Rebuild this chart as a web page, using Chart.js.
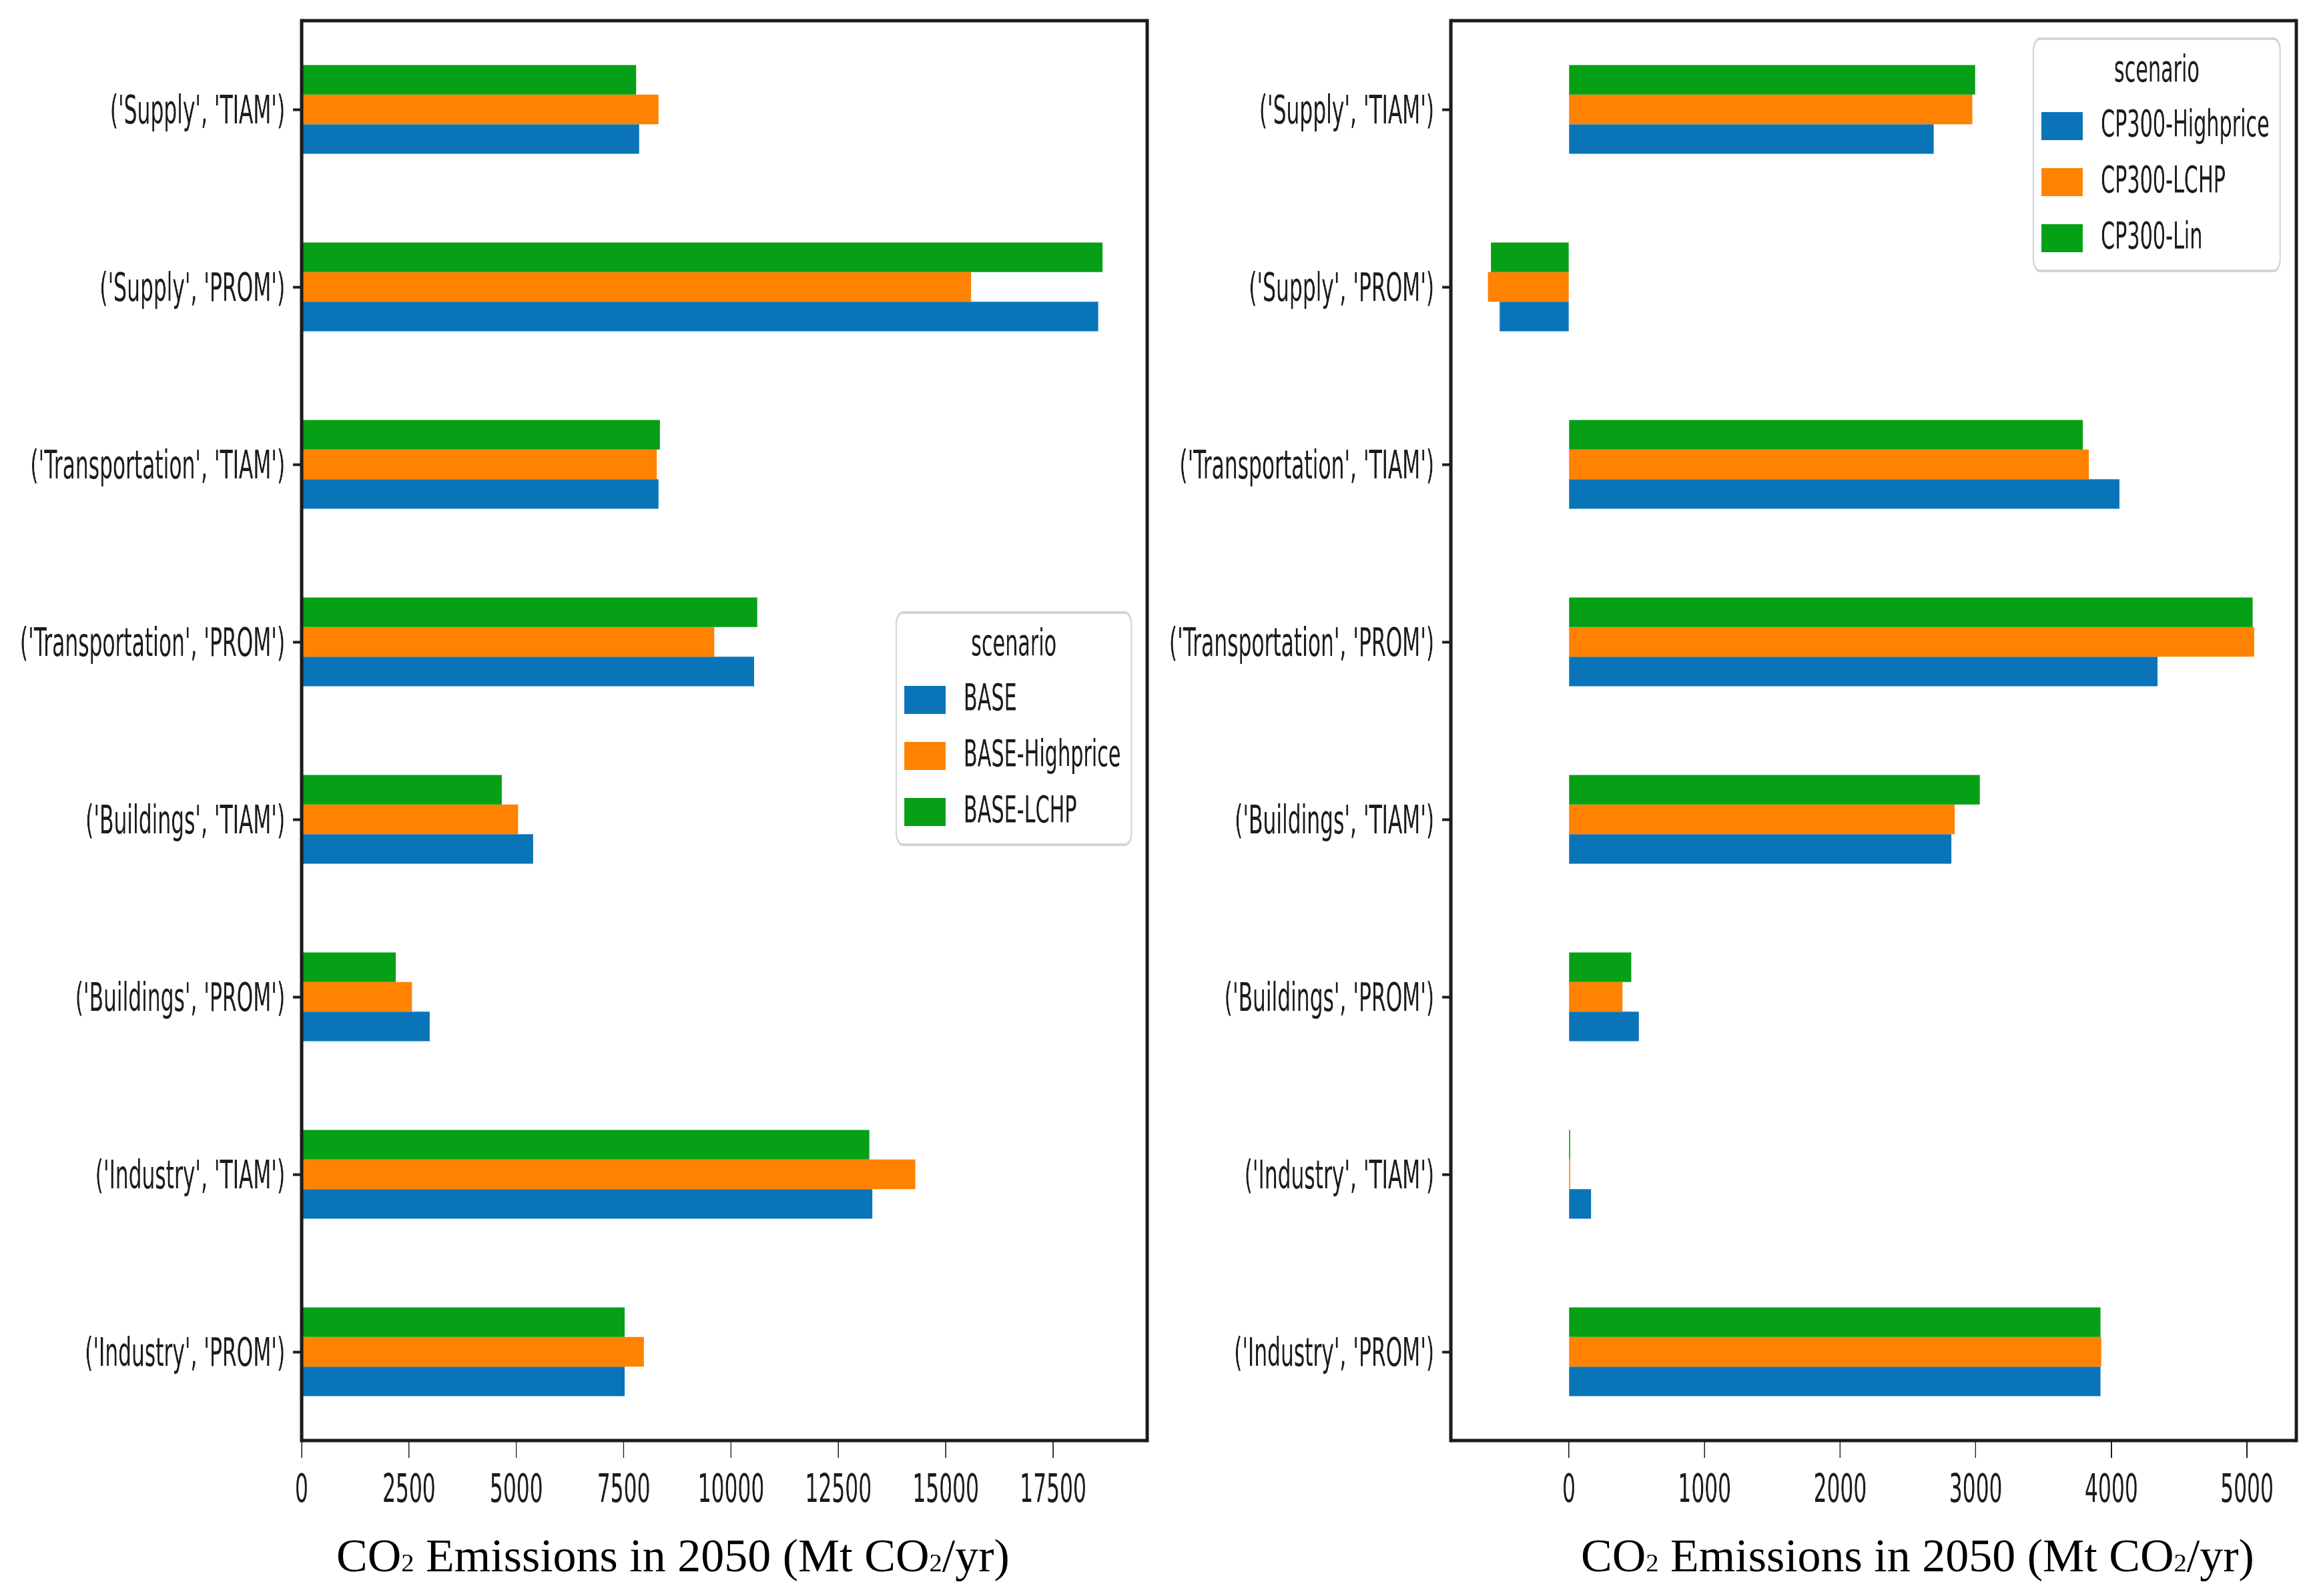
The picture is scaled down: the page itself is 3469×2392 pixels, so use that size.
<!DOCTYPE html>
<html>
<head>
<meta charset="utf-8">
<script src="https://cdn.jsdelivr.net/npm/chart.js@4.4.1/dist/chart.umd.min.js"></script>
<style>
  html, body { margin: 0; padding: 0; background: #fff; }
  body { width: 3469px; height: 2392px; position: relative; overflow: hidden; }
  .panel { position: absolute; top: 0; transform-origin: 0 0; }
  .xtitle {
    position: absolute; top: 2297px; white-space: nowrap; color: #000;
    font-family: 'Liberation Serif', 'Times New Roman', serif; font-size: 70px; line-height: 1;
  }
  .xtitle span { font-size: 0.55em; }
</style>
</head>
<body>
<div class="panel" id="wrap-left"><canvas id="left"></canvas></div>
<div class="panel" id="wrap-right"><canvas id="right"></canvas></div>
<div class="xtitle" style="left:504px">CO<span>2</span> Emissions in 2050 (Mt CO<span>2</span>/yr)</div>
<div class="xtitle" style="left:2369px">CO<span>2</span> Emissions in 2050 (Mt CO<span>2</span>/yr)</div>
<script>
// ── Data ──
const categories = [
  "('Supply', 'TIAM')", "('Supply', 'PROM')",
  "('Transportation', 'TIAM')", "('Transportation', 'PROM')",
  "('Buildings', 'TIAM')", "('Buildings', 'PROM')",
  "('Industry', 'TIAM')", "('Industry', 'PROM')"
];

const leftScenarios = ['BASE', 'BASE-Highprice', 'BASE-LCHP'];
const baseVals      = [7860, 18550, 8310, 10540, 5390, 2980, 13290, 7520];
const baseHighVals  = [8310, 15590, 8270, 9610, 5040, 2570, 14290, 7970];
const baseLchpVals  = [7790, 18650, 8340, 10610, 4660, 2190, 13220, 7520];
const leftTicks     = [0, 2500, 5000, 7500, 10000, 12500, 15000, 17500];

const rightScenarios = ['CP300-Highprice', 'CP300-LCHP', 'CP300-Lin'];
const cpHighVals     = [2690, -510, 4060, 4340, 2820, 515, 163, 3920];
const cpLchpVals     = [2975, -597, 3835, 5053, 2845, 395, 10, 3925];
const cpLinVals      = [2995, -575, 3790, 5042, 3030, 460, 10, 3920];
const rightTicks     = [0, 1000, 2000, 3000, 4000, 5000];

const colors = ['#0a74b8', '#ff8200', '#05a015'];

// ── Look ──
const SQUASH = 0.54;      // the reference is squeezed horizontally
const H = 2392;
const PLOT_TOP = 31;
const PLOT_BOTTOM = 2159;
const FONT = { family: "'DejaVu Sans', sans-serif", size: 58 };
const INK = '#1c1c1c';

const $ = id => document.getElementById(id);

// ── Plugins ──
const frame = {
  id: 'frame',
  afterDatasetsDraw(chart) {
    const { ctx, chartArea: a } = chart;
    ctx.save();
    ctx.strokeStyle = INK;
    ctx.lineWidth = 5;
    ctx.beginPath();
    ctx.moveTo(a.left, a.top); ctx.lineTo(a.right, a.top);
    ctx.moveTo(a.left, a.bottom); ctx.lineTo(a.right, a.bottom);
    ctx.stroke();
    ctx.lineWidth = 5 / SQUASH;
    ctx.beginPath();
    ctx.moveTo(a.left, a.top - 2.5); ctx.lineTo(a.left, a.bottom + 2.5);
    ctx.moveTo(a.right, a.top - 2.5); ctx.lineTo(a.right, a.bottom + 2.5);
    ctx.stroke();
    ctx.restore();
  }
};

const boxLegend = {
  id: 'boxLegend',
  afterDraw(chart, args, o) {
    const ctx = chart.ctx;
    const k = 1 / SQUASH;
    const sets = chart.data.datasets.slice().reverse();
    ctx.save();
    ctx.font = `56px ${FONT.family}`;
    const tw = Math.max(...sets.map(d => ctx.measureText(d.label).width));
    const x = o.x * k, y = o.y, w = 101 * k + tw + 16 * k, h = o.h;

    ctx.beginPath();
    ctx.roundRect(x, y, w, h, 18);
    ctx.fillStyle = 'rgba(255,255,255,0.85)';
    ctx.fill();
    ctx.strokeStyle = '#d4d4d4';
    ctx.lineWidth = 4;
    ctx.stroke();

    ctx.fillStyle = INK;
    ctx.textBaseline = 'middle';
    ctx.textAlign = 'center';
    ctx.fillText('scenario', x + w / 2, y + 49);
    ctx.textAlign = 'left';
    sets.forEach((d, i) => {
      const cy = y + 131 + i * 84;
      ctx.fillStyle = d.backgroundColor;
      ctx.fillRect(x + 12 * k, cy - 21, 62 * k, 42);
      ctx.fillStyle = INK;
      ctx.fillText(d.label, x + 101 * k, cy);
    });
    ctx.restore();
  }
};

// ── Panels ──
function drawPanel(id, cfg) {
  const wrap = $(`wrap-${id}`);
  const canvas = $(id);
  const w = Math.round(cfg.width / SQUASH);
  wrap.style.left = cfg.left + 'px';
  wrap.style.width = w + 'px';
  wrap.style.height = H + 'px';
  wrap.style.transform = `scaleX(${SQUASH})`;
  canvas.width = w;
  canvas.height = H;
  canvas.style.width = w + 'px';
  canvas.style.height = H + 'px';

  const plotLeft = (cfg.plotLeft - cfg.left) / SQUASH;
  const plotRight = (cfg.plotRight - cfg.left) / SQUASH;

  // first dataset sits on top of each group, so feed them reversed
  const datasets = cfg.names.map((n, i) => ({
    label: n, data: cfg.series[i], backgroundColor: colors[i], borderWidth: 0
  })).reverse();

  new Chart(canvas, {
    type: 'bar',
    data: { labels: categories, datasets },
    options: {
      indexAxis: 'y',
      responsive: false,
      animation: false,
      devicePixelRatio: 1,
      layout: { padding: { top: PLOT_TOP, right: w - plotRight, left: 0, bottom: 0 } },
      datasets: { bar: { categoryPercentage: 0.5, barPercentage: 1.0 } },
      plugins: {
        legend: { display: false },
        tooltip: { enabled: false },
        boxLegend: { x: cfg.legendX - cfg.left, y: cfg.legendY, h: 348 }
      },
      scales: {
        y: {
          grid: { offset: false, drawOnChartArea: false, drawTicks: true, tickLength: 24, tickWidth: 4, tickColor: INK },
          border: { display: false },
          ticks: { font: FONT, color: INK, padding: 22, labelOffset: 6, autoSkip: false },
          afterFit: sc => { sc.width = plotLeft; sc.paddingTop = 0; sc.paddingBottom = 0; }
        },
        x: {
          min: cfg.min,
          max: cfg.max,
          afterBuildTicks: sc => { sc.ticks = cfg.ticks.map(v => ({ value: v })); },
          grid: { drawOnChartArea: false, drawTicks: true, tickLength: 26, tickWidth: 3, tickColor: INK },
          border: { display: false },
          ticks: { font: FONT, color: INK, padding: 16, maxRotation: 0, autoSkip: false, callback: v => String(v) },
          afterFit: sc => { sc.height = H - PLOT_BOTTOM; sc.paddingLeft = 0; sc.paddingRight = 0; }
        }
      }
    },
    plugins: [frame, boxLegend]
  });
}

drawPanel('left', {
  left: 0, width: 1740, plotLeft: 452, plotRight: 1719,
  min: 0, max: 19690, ticks: leftTicks,
  names: leftScenarios, series: [baseVals, baseHighVals, baseLchpVals],
  legendX: 1343, legendY: 918
});

drawPanel('right', {
  left: 1730, width: 1739, plotLeft: 2174, plotRight: 3441,
  min: -871, max: 5364, ticks: rightTicks,
  names: rightScenarios, series: [cpHighVals, cpLchpVals, cpLinVals],
  legendX: 3047, legendY: 58
});
</script>
</body>
</html>
